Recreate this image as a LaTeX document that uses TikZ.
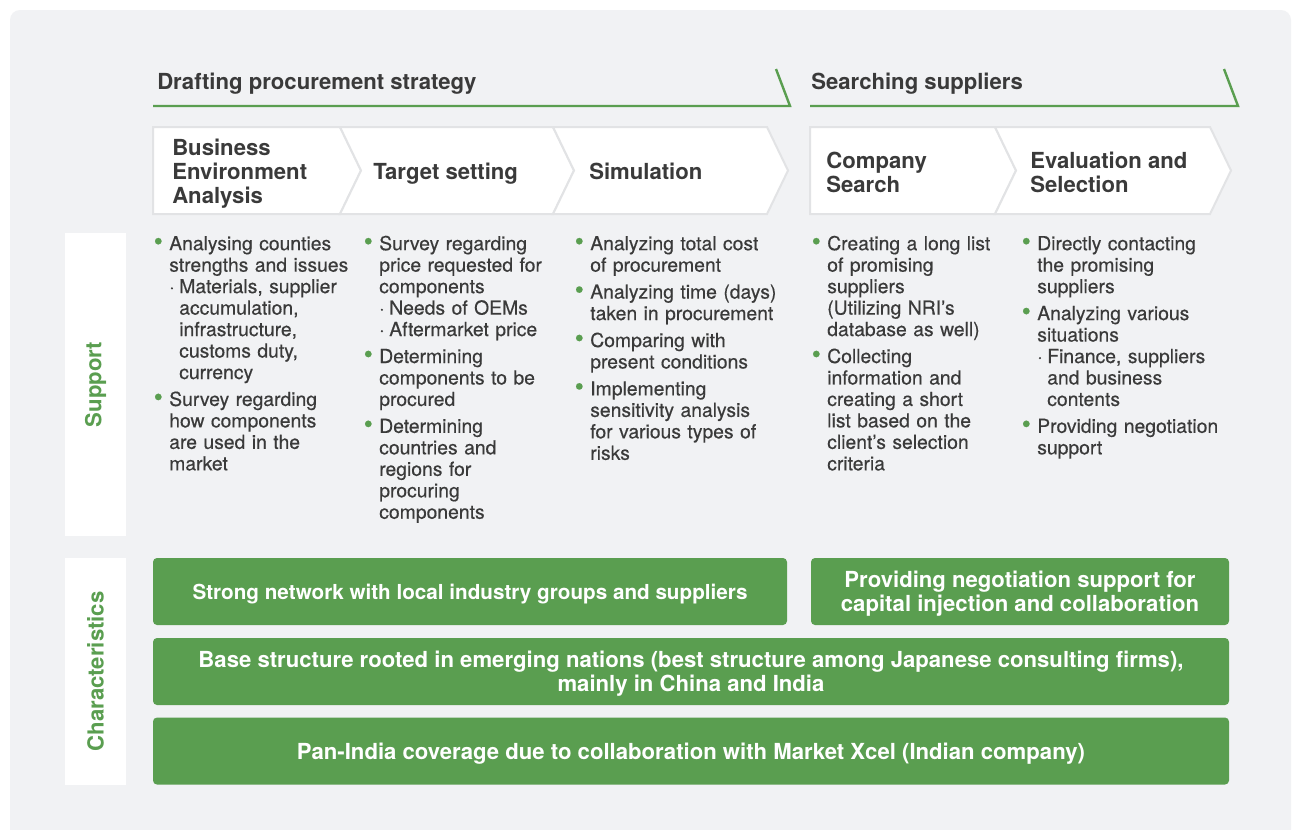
\documentclass[tikz,border=0pt]{standalone}
\usepackage{fontspec}
\setmainfont{TeX Gyre Heros}
\newfontfamily\bodyfont{TeX Gyre Heros}[FakeBold=0.4]
\usetikzlibrary{positioning,calc}
\definecolor{nrigreen}{HTML}{5A9E50}
\definecolor{panelgray}{HTML}{F1F2F4}
\definecolor{chevgray}{HTML}{E2E3E5}
\definecolor{bodytext}{HTML}{3A3A3A}

% bullet and sub-bullet lines for the support columns
\newcommand{\itm}[1]{\par\vskip4.1pt\hangindent=8.25pt\hangafter=1\noindent
  \makebox[8.25pt][l]{\hspace*{-3.4pt}\textcolor{nrigreen}{\scalebox{1.35}{\textbullet}}}{\let\\\newline #1}}
\newcommand{\subitm}[1]{\par\hangindent=15.75pt\hangafter=1\noindent
  \hspace*{8.25pt}\makebox[7.5pt][l]{·}{\let\\\newline #1}}
% pushes box text a little lower
\newcommand{\lift}{\rule{0pt}{15.6pt}}

\begin{document}
\begin{tikzpicture}[x=0.75pt,y=-0.75pt,
    chev/.style={draw=chevgray,line width=1.5pt,fill=white,line join=miter},
    chevtext/.style={anchor=west,align=left,inner sep=0pt,text=bodytext,
      font=\fontsize{16.6}{18}\selectfont\bfseries},
    phase/.style={anchor=base west,inner sep=0pt,text=bodytext,
      font=\fontsize{16.6}{18}\selectfont\bfseries},
    phaseline/.style={draw=nrigreen,line width=1.8pt},
    col/.style={anchor=north west,align=left,text width=150pt,inner sep=0pt,
      text=bodytext,font=\bodyfont\fontsize{14.5}{16.1}\selectfont},
    rowlabel/.style={fill=white,rotate=90,minimum height=45.75pt,inner sep=0pt,
      text=nrigreen,font=\fontsize{16.6}{18}\selectfont\bfseries},
    feature/.style={fill=nrigreen,rounded corners=3pt,minimum height=50.25pt,
      align=center,text=white,font=\fontsize{16.6}{18}\selectfont\bfseries}]
  \useasboundingbox (0,0) rectangle (1292,829);
  \fill[white] (0,0) rectangle (1292,829);
  \begin{scope}
    \clip (0,0) rectangle (1292,829);
    \fill[panelgray,rounded corners=7.5pt] (10,10) rectangle (1291,850);
  \end{scope}

  % phase headers
  \node[phase] (dps) at (157,89) {Drafting procurement strategy};
  \draw[phaseline] (153,106) -- (790,106) -- (776,69);
  \node[phase] (srs) at (811,89) {Searching suppliers};
  \draw[phaseline] (810,106) -- (1238,106) -- (1224,69);

  % process chevrons
  \foreach \xa/\xb/\dn in {153/340/0,340/553/21,553/767/21,810/995/0,995/1210/21}
    \draw[chev] (\xa,127) -- (\xb,127) -- (\xb+21,170.5) -- (\xb,214) -- (\xa,214)
      -- (\xa+\dn,170.5) -- cycle;
  \node[chevtext] (bea) at (172,174) {Business\\Environment\\Analysis};
  \node[chevtext] (tgt) at (373,174) {Target setting};
  \node[chevtext] (sim) at (589,171) {Simulation};
  \node[chevtext] (csr) at (826,172) {Company\\Search};
  \node[chevtext] (evs) at (1030,172) {Evaluation and\\Selection};

  % row labels
  \node[rowlabel,minimum width=227.25pt] (sup) at (95.5,384.5) {Support};
  \node[rowlabel,minimum width=170.25pt] (chr) at (95.5,671.5) {Characteristics};

  % support columns
  \node[col] (c1) at (158,223) {%
    \itm{Analysing counties\\strengths and issues}
    \subitm{Materials, supplier\\accumulation,\\infrastructure,\\customs duty,\\currency}
    \itm{Survey regarding\\how components\\are used in the\\market}\par};
  \node[col] (c2) at (368,223) {%
    \itm{Survey regarding\\price requested for\\components}
    \subitm{Needs of OEMs}
    \subitm{Aftermarket price}
    \itm{Determining\\components to be\\procured}
    \itm{Determining\\countries and\\regions for\\procuring\\components}\par};
  \node[col] (c3) at (579,223) {%
    \itm{Analyzing total cost\\of procurement}
    \itm{Analyzing time (days)\\taken in procurement}
    \itm{Comparing with\\present conditions}
    \itm{Implementing\\sensitivity analysis\\for various types of\\risks}\par};
  \node[col] (c4) at (816,223) {%
    \itm{Creating a long list\\of promising\\suppliers\\(Utilizing NRI’s\\database as well)}
    \itm{Collecting\\information and\\creating a short\\list based on the\\client’s selection\\criteria}\par};
  \node[col] (c5) at (1026,223) {%
    \itm{Directly contacting\\the promising\\suppliers}
    \itm{Analyzing various\\situations}
    \subitm{Finance, suppliers\\and business\\contents}
    \itm{Providing negotiation\\support}\par};

  % characteristics
  \node[feature,minimum width=475.5pt,font=\fontsize{15.5}{18}\selectfont\bfseries]
    (netw) at (470,591.5)
    {\lift Strong network with local industry groups and suppliers};
  \node[feature,minimum width=313.5pt] (nego) at (1020,591.5)
    {\lift Providing negotiation support for\\capital injection and collaboration};
  \node[feature,minimum width=807pt] (base) at (691,671.5)
    {\lift Base structure rooted in emerging nations (best structure among Japanese consulting firms),\\mainly in China and India};
  \node[feature,minimum width=807pt,below=9pt of base] (pan)
    {\lift Pan-India coverage due to collaboration with Market Xcel (Indian company)};
\end{tikzpicture}
\end{document}
